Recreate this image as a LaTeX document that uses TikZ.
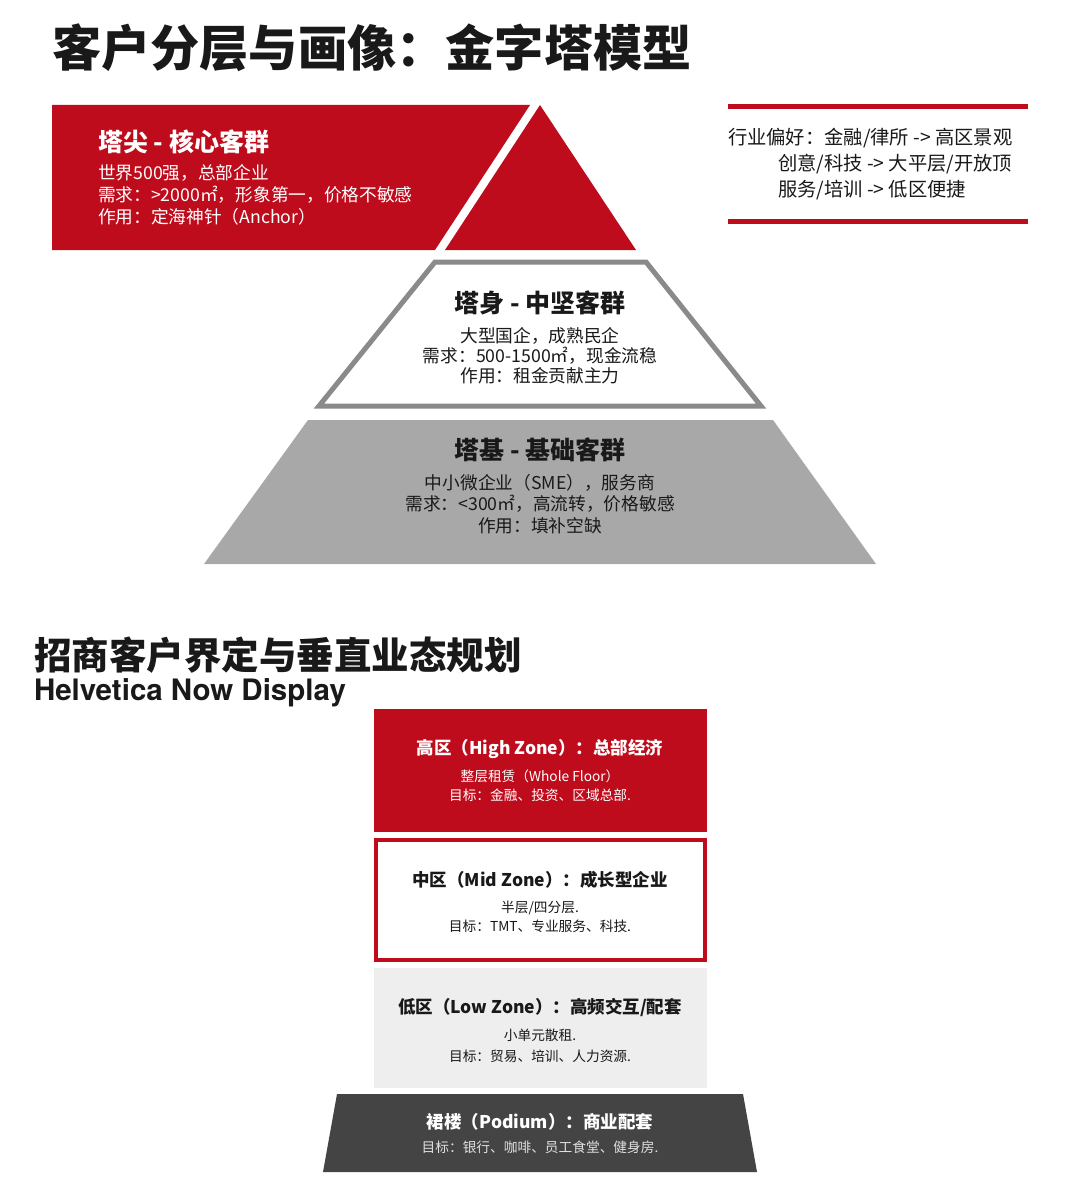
\documentclass[tikz,border=0pt]{standalone}
\usepackage{fontspec}
\setmainfont{Noto Sans CJK SC}
\newfontfamily\helv{TeX Gyre Heros}
\definecolor{pred}{RGB}{190,12,28}
\definecolor{pgrey}{RGB}{168,168,168}
\definecolor{pborder}{RGB}{138,138,138}
\definecolor{lowgrey}{RGB}{238,238,238}
\definecolor{podium}{RGB}{68,68,68}
\definecolor{ink}{RGB}{25,25,25}
\begin{document}
\begin{tikzpicture}[x=1pt,y=-1pt,
  every node/.style={inner sep=0pt, outer sep=0pt},
  bigtitle/.style={font=\fontsize{49.2}{49}\selectfont\bfseries, text=ink, anchor=west},
  sectitle/.style={font=\fontsize{37.5}{37.5}\selectfont\bfseries, text=ink, anchor=west},
  subtitle/.style={font=\fontsize{29.5}{29.5}\selectfont\helv\bfseries, text=ink, anchor=west},
  pyhead/.style={font=\fontsize{25}{30}\selectfont\bfseries},
  pybody/.style={font=\fontsize{17.7}{#1}\selectfont},
  sidetext/.style={font=\fontsize{19.3}{24}\selectfont, text=ink, anchor=west},
  zonehead/.style={font=\fontsize{17.5}{21}\selectfont\bfseries},
  zonebody/.style={font=\fontsize{13.7}{#1}\selectfont, align=center},
]
\useasboundingbox (0,0) rectangle (1080,1201);
\fill[white] (0,0) rectangle (1080,1201);

% ---------- Title ----------
\node[bigtitle] (title) at (52,48) {客户分层与画像：金字塔模型};

% ---------- Pyramid shapes ----------
\fill[pred] (52,105) -- (530,105) -- (435,250) -- (52,250) -- cycle;
\fill[pred] (540,105) -- (636,250) -- (445,250) -- cycle;
\draw[pborder, line width=5, fill=white, line join=miter]
  (435,262) -- (646,262) -- (761,406) -- (319,406) -- cycle;
\fill[pgrey] (308,420) -- (773,420) -- (876,564) -- (204,564) -- cycle;

% ---------- Pyramid texts ----------
\node[pyhead, text=white, anchor=west] (tiphead) at (98,142) {塔尖 - 核心客群};
\node[pybody=22, text=white, anchor=west, align=left] (tipbody) at (98,195)
  {世界500强，总部企业\\需求：>2000㎡，形象第一，价格不敏感\\作用：定海神针（Anchor）};

\node[pyhead, text=ink] (midhead) at (540,303) {塔身 - 中坚客群};
\node[pybody=20, text=ink, align=center] (midbody) at (540,356)
  {大型国企，成熟民企\\需求：500-1500㎡，现金流稳\\作用：租金贡献主力};

\node[pyhead, text=ink] (basehead) at (540,450) {塔基 - 基础客群};
\node[pybody=21.5, text=ink, align=center] (basebody) at (540,504)
  {中小微企业（SME），服务商\\需求：<300㎡，高流转，价格敏感\\作用：填补空缺};

% ---------- Side box ----------
\draw[pred, line width=5] (728,107) -- (1028,107);
\draw[pred, line width=5] (728,221) -- (1028,221);
\node[sidetext] (side1) at (728,138) {行业偏好：金融/律所 -> 高区景观};
\node[sidetext] (side2) at (778,164) {创意/科技 -> 大平层/开放顶};
\node[sidetext] (side3) at (778,190) {服务/培训 -> 低区便捷};

% ---------- Section 2 ----------
\node[sectitle] (sec2) at (34,655) {招商客户界定与垂直业态规划};
\node[subtitle] (sec2sub) at (34,693) {Helvetica Now Display};

\fill[pred] (374,709) rectangle (707,832);
\draw[pred, line width=4, fill=white] (376,840) rectangle (705,960);
\fill[lowgrey] (374,968) rectangle (707,1088);
\fill[podium] (337,1094) -- (743,1094) -- (757,1172) -- (323,1172) -- cycle;

\node[zonehead, text=white] (highhead) at (540,749) {高区（High Zone）：总部经济};
\node[zonebody=19, text=white] (highbody) at (540,786)
  {整层租赁（Whole Floor）\\目标：金融、投资、区域总部.};

\node[zonehead, text=ink] (midzhead) at (540,880) {中区（Mid Zone）：成长型企业};
\node[zonebody=19.5, text=ink] (midzbody) at (540,917)
  {半层/四分层.\\目标：TMT、专业服务、科技.};

\node[zonehead, text=ink] (lowhead) at (540,1007) {低区（Low Zone）：高频交互/配套};
\node[zonebody=21, text=ink] (lowbody) at (540,1045.5)
  {小单元散租.\\目标：贸易、培训、人力资源.};

\node[zonehead, text=white] (podhead) at (540,1122) {裙楼（Podium）：商业配套};
\node[font=\fontsize{13.7}{16}\selectfont, text=white!88!black] (podbody) at (540,1147)
  {目标：银行、咖啡、员工食堂、健身房.};
\end{tikzpicture}
\end{document}
